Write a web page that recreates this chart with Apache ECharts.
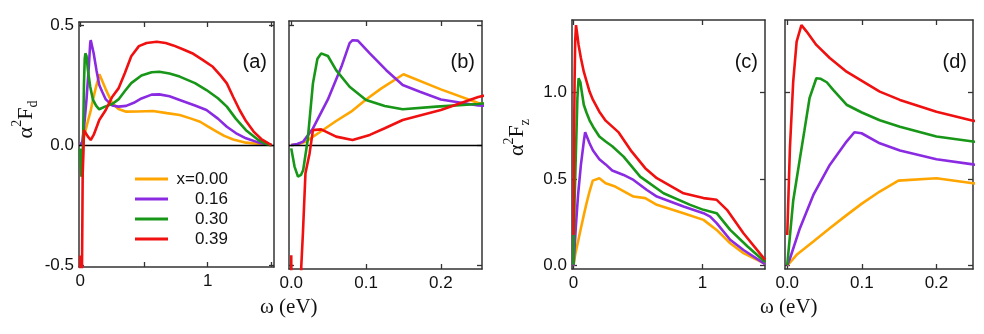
<!DOCTYPE html>
<html>
<head>
<meta charset="utf-8">
<script src="https://cdn.jsdelivr.net/npm/echarts@6/dist/echarts.min.js"></script>
<style>
  html, body { margin: 0; padding: 0; background: #fff; }
  #container { width: 984px; height: 334px; }
</style>
</head>
<body>
<div id="container"></div>
<script>
// series names (legend) and colours
var seriesNames = ['x=0.00', '0.16', '0.30', '0.39'];
var colors = ['#FFA500', '#8A2BE2', '#179617', '#F01010'];

// alpha^2 F_d : [omega (eV), value]
var fd000 = [[0,0],[0.01,0.004],[0.02,0.015],[0.036,0.049],[0.06,0.1],[0.08,0.139],[0.1,0.19],[0.12,0.235],
  [0.15,0.295],[0.2,0.232],[0.25,0.175],[0.3,0.15],[0.36,0.139],[0.45,0.14],[0.57,0.142],[0.68,0.133],
  [0.78,0.125],[0.87,0.11],[0.94,0.097],[1.0,0.078],[1.07,0.056],[1.13,0.038],[1.2,0.023],[1.3,0.01],[1.41,0.004],[1.5,0]];
var fd016 = [[0,0],[0.008,0.004],[0.016,0.014],[0.029,0.069],[0.049,0.19],[0.067,0.326],[0.078,0.425],[0.082,0.437],
  [0.089,0.435],[0.105,0.382],[0.127,0.312],[0.149,0.25],[0.172,0.222],[0.2,0.19],[0.25,0.165],[0.3,0.16],
  [0.36,0.163],[0.42,0.176],[0.48,0.194],[0.56,0.21],[0.62,0.211],[0.7,0.203],[0.78,0.188],[0.9,0.165],
  [0.99,0.146],[1.08,0.11],[1.15,0.076],[1.22,0.05],[1.3,0.028],[1.4,0.01],[1.5,0]];
var fd030 = [[0,-0.014],[0.0044,-0.09],[0.009,-0.132],[0.013,-0.125],[0.016,-0.104],[0.022,0.021],[0.029,0.257],
  [0.035,0.36],[0.04,0.382],[0.049,0.371],[0.06,0.312],[0.078,0.243],[0.1,0.188],[0.125,0.163],[0.149,0.149],
  [0.194,0.16],[0.25,0.171],[0.3,0.19],[0.35,0.225],[0.4,0.258],[0.48,0.29],[0.56,0.303],[0.62,0.305],
  [0.7,0.298],[0.78,0.285],[0.9,0.258],[0.99,0.229],[1.08,0.195],[1.15,0.16],[1.22,0.11],[1.3,0.062],
  [1.4,0.02],[1.46,0.004],[1.5,0]];
var fd039 = [[0,-0.46],[0.0003,-0.8],[0.0125,-0.8],[0.0134,-0.507],[0.0156,-0.368],[0.019,-0.118],[0.0245,-0.035],
  [0.029,0.062],[0.04,0.065],[0.06,0.035],[0.082,0.021],[0.105,0.042],[0.125,0.07],[0.149,0.104],[0.2,0.146],
  [0.25,0.2],[0.3,0.236],[0.35,0.3],[0.4,0.37],[0.46,0.412],[0.52,0.425],[0.6,0.43],[0.67,0.425],[0.73,0.415],
  [0.8,0.4],[0.887,0.38],[0.96,0.355],[1.04,0.326],[1.1,0.29],[1.15,0.257],[1.2,0.2],[1.25,0.146],[1.3,0.1],
  [1.36,0.056],[1.42,0.025],[1.5,0]];

// alpha^2 F_z : [omega (eV), value]
var fz000 = [[0,0],[0.0126,0.062],[0.035,0.139],[0.057,0.216],[0.08,0.293],[0.1,0.358],[0.124,0.428],[0.149,0.491],
  [0.2,0.505],[0.249,0.476],[0.323,0.457],[0.465,0.399],[0.556,0.39],[0.646,0.351],[0.853,0.303],[1.008,0.264],
  [1.11,0.206],[1.215,0.129],[1.318,0.072],[1.486,0.01]];
var fz016 = [[0,0],[0.004,0.045],[0.017,0.216],[0.035,0.408],[0.057,0.582],[0.0795,0.717],[0.09,0.771],[0.0996,0.765],
  [0.124,0.707],[0.151,0.665],[0.2,0.615],[0.249,0.585],[0.3,0.55],[0.388,0.524],[0.465,0.495],[0.569,0.437],
  [0.646,0.399],[0.853,0.341],[1.008,0.303],[1.06,0.283],[1.11,0.245],[1.215,0.149],[1.318,0.09],[1.486,0.008]];
var fz030 = [[0,0.004],[0.008,0.375],[0.017,0.62],[0.023,0.78],[0.03,0.97],[0.039,1.083],[0.045,1.08],[0.053,1.06],
  [0.0616,1.016],[0.0795,0.93],[0.1,0.885],[0.124,0.84],[0.151,0.803],[0.2,0.746],[0.249,0.717],[0.3,0.69],
  [0.388,0.63],[0.517,0.514],[0.698,0.418],[0.905,0.351],[1.008,0.322],[1.11,0.303],[1.215,0.206],[1.35,0.11],[1.486,0.02]];
var fz039 = [[0,0.177],[0.0036,0.68],[0.008,1.064],[0.0126,1.295],[0.019,1.39],[0.026,1.353],[0.039,1.276],[0.057,1.2],
  [0.0795,1.121],[0.1017,1.064],[0.124,1.006],[0.151,0.958],[0.2,0.89],[0.249,0.838],[0.35,0.77],[0.45,0.66],
  [0.556,0.563],[0.646,0.505],[0.853,0.418],[1.008,0.39],[1.11,0.38],[1.19,0.322],[1.318,0.187],[1.486,0.033]];

// axis ranges and ticks, one entry per panel (a) (b) (c) (d)
var xRanges = [[-0.01, 1.52], [-0.003, 0.255], [-0.012, 1.485], [-0.003, 0.249]];
var yRanges = [[-0.508, 0.5125], [-0.517, 0.517], [-0.02, 1.42], [-0.02, 1.42]];
var xTicks = [[0, 0.5, 1, 1.5], [0, 0.1, 0.2], [0, 1], [0, 0.1, 0.2]];
var xTickLabels = [[0, 1], [0, 0.1, 0.2], [0, 1], [0, 0.1, 0.2]];
var yTicks = [[-0.5, 0, 0.5], [-0.5, 0, 0.5], [0, 0.5, 1], [0, 0.5, 1]];
var yTickLabels = [[-0.5, 0, 0.5], [], [0, 0.5, 1], []];
var panelLabels = ['(a)', '(b)', '(c)', '(d)'];

var fdData = [fd000, fd016, fd030, fd039];
var fzData = [fz000, fz016, fz030, fz039];

var grids = [
  {left: 79, top: 22, width: 195, height: 245},
  {left: 289, top: 21, width: 193, height: 248},
  {left: 572, top: 20, width: 193, height: 249},
  {left: 785, top: 20, width: 188, height: 249}
];

var chart = echarts.init(document.getElementById('container'), null, {renderer: 'canvas'});

var lineStyleFrame = {show: true, onZero: false, lineStyle: {color: '#333', width: 1.5}};
var tickStyle = {show: true, inside: true, length: 5, lineStyle: {color: '#333', width: 1.3}};
var labelFont = {fontFamily: 'Liberation Sans', fontSize: 17, color: '#111'};

var nameRich = {
  g: {fontFamily: 'Liberation Serif', fontSize: 22, lineHeight: 30, verticalAlign: 'middle', color: '#111'},
  s: {fontFamily: 'Liberation Serif', fontSize: 14, lineHeight: 14, verticalAlign: 'top', color: '#111'},
  b: {fontFamily: 'Liberation Serif', fontSize: 14, lineHeight: 14, verticalAlign: 'bottom', color: '#111'}
};

var xAxes = [], yAxes = [], series = [];
grids.forEach(function (g, i) {
  g.containLabel = false;
  ['bottom', 'top'].forEach(function (pos) {
    xAxes.push({
      type: 'value', gridIndex: i, position: pos,
      min: xRanges[i][0], max: xRanges[i][1],
      axisLine: lineStyleFrame, splitLine: {show: false},
      axisTick: Object.assign({customValues: xTicks[i]}, tickStyle),
      axisLabel: pos === 'bottom' ? Object.assign({
        show: true, margin: 6, customValues: xTickLabels[i],
        formatter: function (v) { return (i % 2 === 0) ? String(Math.round(v)) : v.toFixed(1); }
      }, labelFont) : {show: false}
    });
  });
  ['left', 'right'].forEach(function (pos) {
    var ax = {
      type: 'value', gridIndex: i, position: pos,
      min: yRanges[i][0], max: yRanges[i][1],
      axisLine: lineStyleFrame, splitLine: {show: false},
      axisTick: Object.assign({customValues: yTicks[i]}, tickStyle),
      axisLabel: (pos === 'left' && yTickLabels[i].length) ? Object.assign({
        show: true, margin: 5, customValues: yTickLabels[i],
        formatter: function (v) { return v.toFixed(1); }
      }, labelFont) : {show: false}
    };
    if (pos === 'left' && i === 0) {
      ax.name = '{g|α}{s|2}{g|F}{b|d}';
      ax.nameLocation = 'middle';
      ax.nameRotate = 90;
      ax.nameGap = 32;
      ax.nameTextStyle = {rich: nameRich, padding: [0, 0, 0, 50]};
    }
    if (pos === 'left' && i === 2) {
      ax.name = '{g|α}{s|2}{g|F}{b|z}';
      ax.nameLocation = 'middle';
      ax.nameRotate = 90;
      ax.nameGap = 40;
      ax.nameTextStyle = {rich: nameRich, padding: [0, 0, 0, 14]};
    }
    yAxes.push(ax);
  });

  var dataSet = i < 2 ? fdData : fzData;
  dataSet.forEach(function (d, k) {
    var s = {
      name: seriesNames[k], type: 'line',
      xAxisIndex: 2 * i, yAxisIndex: 2 * i,
      data: d, showSymbol: false, symbol: 'none', clip: true,
      color: colors[k],
      lineStyle: {color: colors[k], width: 2.6},
      z: 3 + k, animation: false
    };
    if (i < 2 && k === 0) {
      s.markLine = {
        silent: true, symbol: 'none', animation: false,
        label: {show: false},
        lineStyle: {color: '#000', type: 'solid', width: 1.3},
        data: [{yAxis: 0}]
      };
    }
    series.push(s);
  });
});

var graphics = [];
var labelRight = [267, 475, 758, 967];
panelLabels.forEach(function (t, i) {
  graphics.push({
    type: 'text', right: 984 - labelRight[i], top: 52,
    style: {text: t, font: '20px "Liberation Sans"', fill: '#111'}
  });
});
[290, 790].forEach(function (cx) {
  graphics.push({
    type: 'text', left: cx - 30, top: 297,
    style: {text: 'ω (eV)', font: '21px "Liberation Serif"', fill: '#111'}
  });
});

var option = {
  animation: false,
  backgroundColor: '#fff',
  grid: grids,
  xAxis: xAxes,
  yAxis: yAxes,
  legend: {
    data: seriesNames,
    orient: 'vertical',
    left: 130, top: 165,
    icon: 'rect',
    itemWidth: 33, itemHeight: 3,
    itemGap: 2,
    selectedMode: false,
    formatter: '{r|{name}}',
    textStyle: {
      fontFamily: 'Liberation Sans', fontSize: 17, color: '#111', lineHeight: 18,
      rich: {r: {width: 55, align: 'right', fontFamily: 'Liberation Sans', fontSize: 17, lineHeight: 18}}
    }
  },
  graphic: graphics,
  series: series
};

chart.setOption(option);
</script>
</body>
</html>
